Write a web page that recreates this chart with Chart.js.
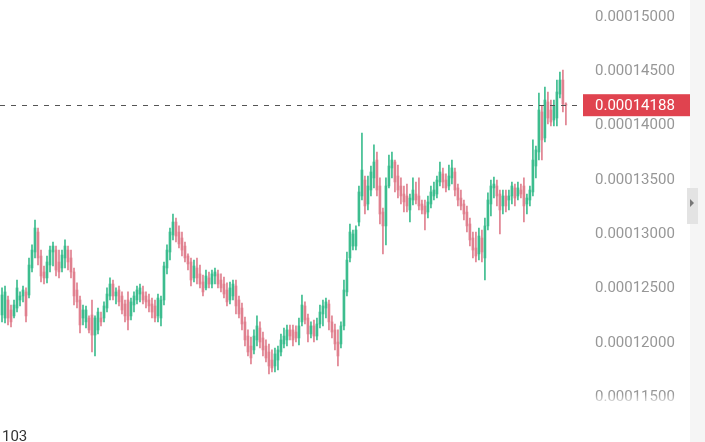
<!DOCTYPE html>
<html>
<head>
<meta charset="utf-8">
<script src="https://cdn.jsdelivr.net/npm/chart.js@4.4.1/dist/chart.umd.min.js"></script>
<style>
  html, body { margin: 0; padding: 0; background: #fff; }
  canvas { display: block; }
</style>
</head>
<body>
<canvas id="chart" width="705" height="442"></canvas>
<script>
// prices in units of 0.00000001
const opens = [
  12256, 12228, 12394, 12302, 12247, 12320, 12394, 12431, 12468, 12440,
  12689, 12836, 13020, 12799, 12652, 12597, 12716, 12836, 12854, 12744,
  12689, 12781, 12854, 12781, 12652, 12486, 12394, 12228, 12192, 12228,
  12256, 12071, 12118, 12228, 12228, 12320, 12431, 12541, 12431, 12486,
  12431, 12357, 12394, 12247, 12348, 12394, 12449, 12468, 12431, 12394,
  12357, 12339, 12247, 12228, 12394, 12689, 12836, 12993, 13112, 13020,
  12965, 12891, 12799, 12744, 12597, 12689, 12634, 12560, 12505, 12597,
  12541, 12615, 12634, 12578, 12541, 12486, 12394, 12431, 12523, 12394,
  12320, 12192, 12062, 11970, 11934, 12026, 12136, 12044, 11970, 11915,
  11841, 11786, 11841, 11915, 11989, 12026, 12118, 12118, 12099, 12044,
  12192, 12339, 12228, 12081, 12155, 12062, 12173, 12265, 12320, 12357,
  12192, 12118, 12007, 11989, 12155, 12468, 12781, 12891, 12891, 13112,
  13352, 13499, 13278, 13407, 13518, 13683, 13444, 13204, 13076, 13444,
  13610, 13665, 13536, 13444, 13370, 13352, 13223, 13315, 13370, 13352,
  13278, 13260, 13204, 13278, 13352, 13370, 13481, 13555, 13499, 13444,
  13518, 13573, 13426, 13333, 13278, 13204, 13094, 12965, 12873, 12818,
  12965, 12781, 13076, 13278, 13426, 13444, 13370, 13260, 13352, 13315,
  13352, 13426, 13352, 13407, 13444, 13278, 13315, 13389, 13628, 13757,
  14126, 13886, 14218, 14144, 14052, 14070, 14291, 14420, 14199
];
const highs = [
  12505, 12523, 12431, 12348, 12394, 12578, 12468, 12523, 12505, 12781,
  12901, 13131, 13057, 12854, 12707, 12799, 12891, 12928, 12891, 12854,
  12854, 12947, 12891, 12854, 12689, 12551, 12431, 12348, 12339, 12247,
  12394, 12247, 12320, 12283, 12376, 12505, 12597, 12578, 12505, 12523,
  12468, 12394, 12468, 12412, 12468, 12523, 12541, 12523, 12468, 12449,
  12412, 12394, 12449, 12431, 12744, 12901, 13057, 13186, 13149, 13076,
  13020, 12928, 12818, 12781, 12762, 12781, 12716, 12624, 12670, 12652,
  12670, 12689, 12670, 12634, 12606, 12551, 12560, 12578, 12578, 12431,
  12366, 12237, 12118, 12053, 12118, 12247, 12192, 12099, 12026, 11989,
  11934, 11952, 11970, 12081, 12136, 12164, 12164, 12164, 12155, 12228,
  12440, 12376, 12265, 12192, 12210, 12228, 12348, 12394, 12412, 12394,
  12247, 12173, 12118, 12192, 12578, 12836, 13094, 13039, 13076, 13444,
  13932, 13536, 13536, 13628, 13822, 13757, 13518, 13241, 13518, 13729,
  13757, 13683, 13637, 13518, 13444, 13462, 13370, 13518, 13481, 13518,
  13315, 13315, 13352, 13444, 13481, 13536, 13665, 13610, 13555, 13637,
  13683, 13610, 13462, 13407, 13315, 13260, 13149, 13020, 13020, 13057,
  13039, 13149, 13380, 13499, 13527, 13499, 13407, 13407, 13407, 13407,
  13481, 13462, 13481, 13462, 13518, 13370, 13444, 13868, 13812, 14300,
  14181, 14356, 14310, 14236, 14236, 14420, 14494, 14512, 14210
];
const lows = [
  12192, 12182, 12164, 12145, 12228, 12283, 12339, 12376, 12192, 12412,
  12652, 12781, 12716, 12560, 12541, 12551, 12652, 12707, 12615, 12597,
  12652, 12689, 12670, 12597, 12348, 12320, 12090, 12164, 12136, 12090,
  11915, 11878, 12081, 12155, 12192, 12283, 12394, 12394, 12357, 12339,
  12265, 12192, 12118, 12210, 12283, 12357, 12376, 12357, 12320, 12283,
  12228, 12192, 12192, 12155, 12348, 12634, 12762, 12947, 12928, 12873,
  12799, 12744, 12670, 12523, 12560, 12541, 12505, 12431, 12486, 12505,
  12505, 12541, 12505, 12468, 12412, 12339, 12357, 12394, 12265, 12228,
  12118, 11970, 11878, 11805, 11897, 11970, 11952, 11878, 11823, 11712,
  11731, 11731, 11749, 11878, 11952, 11970, 12026, 11970, 12007, 11979,
  12155, 12173, 12007, 12044, 12007, 12026, 12136, 12155, 12228, 12118,
  12044, 11934, 11786, 11952, 12118, 12431, 12744, 12854, 12854, 13076,
  13315, 13186, 13223, 13352, 13426, 13352, 13094, 12818, 12901, 13426,
  13518, 13389, 13333, 13278, 13204, 13204, 13112, 13269, 13278, 13223,
  13186, 13039, 13149, 13241, 13315, 13333, 13444, 13426, 13389, 13407,
  13462, 13352, 13260, 13223, 13131, 13020, 12891, 12781, 12744, 12762,
  12744, 12578, 13039, 13168, 13333, 13260, 13002, 13186, 13204, 13223,
  13278, 13260, 13315, 13333, 13112, 13186, 13260, 13352, 13518, 13683,
  13683, 13849, 14015, 13997, 13997, 13997, 14254, 14126, 14006
];
const closes = [
  12440, 12468, 12228, 12192, 12348, 12505, 12431, 12486, 12247, 12716,
  12854, 13057, 12781, 12615, 12597, 12744, 12854, 12891, 12670, 12652,
  12808, 12891, 12744, 12652, 12431, 12376, 12164, 12302, 12302, 12118,
  12071, 12228, 12283, 12192, 12339, 12449, 12541, 12431, 12468, 12376,
  12302, 12247, 12210, 12376, 12431, 12486, 12505, 12394, 12376, 12339,
  12283, 12228, 12412, 12394, 12707, 12854, 13020, 13112, 12983, 12910,
  12854, 12781, 12726, 12578, 12707, 12597, 12541, 12468, 12615, 12541,
  12634, 12652, 12541, 12505, 12449, 12376, 12505, 12541, 12339, 12265,
  12173, 12026, 11915, 11860, 12062, 12155, 12007, 11934, 11860, 11786,
  11768, 11897, 11934, 12026, 12062, 12118, 12062, 12026, 12044, 12155,
  12348, 12210, 12081, 12155, 12062, 12173, 12283, 12339, 12376, 12192,
  12099, 11989, 11878, 12155, 12486, 12762, 13020, 13002, 13039, 13389,
  13591, 13260, 13444, 13573, 13665, 13407, 13186, 13076, 13444, 13628,
  13683, 13481, 13407, 13352, 13297, 13260, 13333, 13407, 13315, 13260,
  13223, 13186, 13297, 13389, 13407, 13499, 13573, 13481, 13426, 13536,
  13610, 13407, 13315, 13260, 13186, 13076, 12947, 12854, 12799, 12983,
  12836, 13076, 13315, 13444, 13462, 13352, 13223, 13352, 13260, 13352,
  13444, 13333, 13426, 13370, 13260, 13333, 13407, 13683, 13776, 14144,
  13868, 14236, 14070, 14033, 14181, 14310, 14420, 14199, 14188
];
const yTicks = [11500, 12000, 12500, 13000, 13500, 14000, 14500, 15000];
const lastPrice = 14188;
const bottomLabel = '103';

const upColor = '#3dbd8f';
const downColor = '#e0808f';

Chart.defaults.font.family = 'Roboto';

const candleColors = closes.map((c, i) => c >= opens[i] ? upColor : downColor);
const wicks = lows.map((l, i) => ({ x: i, y: [l, highs[i]] }));
const bodies = opens.map((o, i) => ({ x: i, y: [o, closes[i]] }));

function fmt(v) {
    return (v / 1e8).toFixed(8);
}

const overlay = {
    id: 'overlay',
    beforeDraw(chart) {
        const ctx = chart.ctx;
        ctx.save();
        ctx.fillStyle = '#ffffff';
        ctx.fillRect(0, 0, chart.width, chart.height);
        ctx.fillStyle = '#f5f5f5';
        ctx.fillRect(690, 0, 15, chart.height);
        ctx.restore();
    },
    afterDatasetsDraw(chart) {
        const ctx = chart.ctx;
        const area = chart.chartArea;
        const y = Math.round(chart.scales.y.getPixelForValue(lastPrice)) + 0.5;
        ctx.save();
        ctx.strokeStyle = '#555555';
        ctx.lineWidth = 1;
        ctx.setLineDash([5, 6]);
        ctx.beginPath();
        ctx.moveTo(area.left, y);
        ctx.lineTo(area.right, y);
        ctx.stroke();
        ctx.restore();
    },
    afterDraw(chart) {
        const ctx = chart.ctx;
        const area = chart.chartArea;
        const y = chart.scales.y.getPixelForValue(lastPrice);
        ctx.save();
        // bottom of the picture is washed out
        const g = ctx.createLinearGradient(0, 394, 0, 406);
        g.addColorStop(0, 'rgba(255,255,255,0)');
        g.addColorStop(1, 'rgba(255,255,255,1)');
        ctx.fillStyle = g;
        ctx.fillRect(0, 394, 690, 48);

        // current price tag
        ctx.fillStyle = '#e0434f';
        ctx.fillRect(area.right, y - 11, 690 - area.right, 22);
        ctx.fillStyle = '#ffffff';
        ctx.font = '15px Roboto';
        ctx.textBaseline = 'middle';
        ctx.textAlign = 'left';
        ctx.fillText(fmt(lastPrice), area.right + 12, y + 1);

        // side tab
        ctx.fillStyle = '#e3e3e3';
        ctx.fillRect(687, 188, 11, 36);
        ctx.fillStyle = '#777777';
        ctx.beginPath();
        ctx.moveTo(690, 199);
        ctx.lineTo(694, 203);
        ctx.lineTo(690, 207);
        ctx.closePath();
        ctx.fill();

        // bottom label
        ctx.fillStyle = '#333333';
        ctx.font = '15px Roboto';
        ctx.textBaseline = 'top';
        ctx.fillText(bottomLabel, 2, 430);
        ctx.restore();
    }
};

new Chart(document.getElementById('chart'), {
    type: 'bar',
    data: {
        datasets: [
            {
                label: 'wick',
                data: wicks,
                backgroundColor: candleColors,
                barThickness: 1,
                grouped: false,
                borderWidth: 0
            },
            {
                label: 'body',
                data: bodies,
                backgroundColor: candleColors,
                barThickness: 2,
                minBarLength: 1,
                grouped: false,
                borderWidth: 0
            }
        ]
    },
    options: {
        responsive: false,
        animation: false,
        layout: { padding: 0 },
        plugins: {
            legend: { display: false },
            tooltip: { enabled: false }
        },
        scales: {
            x: {
                type: 'linear',
                min: -0.67,
                max: 193.7,
                offset: false,
                bounds: 'data',
                display: false
            },
            y: {
                position: 'right',
                min: 11086,
                max: 15157,
                grid: { display: false, drawTicks: false },
                border: { display: false },
                afterBuildTicks(scale) {
                    scale.ticks = yTicks.map(v => ({ value: v }));
                },
                ticks: {
                    autoSkip: false,
                    padding: 12,
                    color: '#979797',
                    font: { size: 15, family: 'Roboto' },
                    callback: v => fmt(v)
                },
                afterFit(scale) {
                    scale.width = 122;
                    scale.paddingTop = 0;
                    scale.paddingBottom = 0;
                }
            }
        }
    },
    plugins: [overlay]
});
</script>
</body>
</html>
